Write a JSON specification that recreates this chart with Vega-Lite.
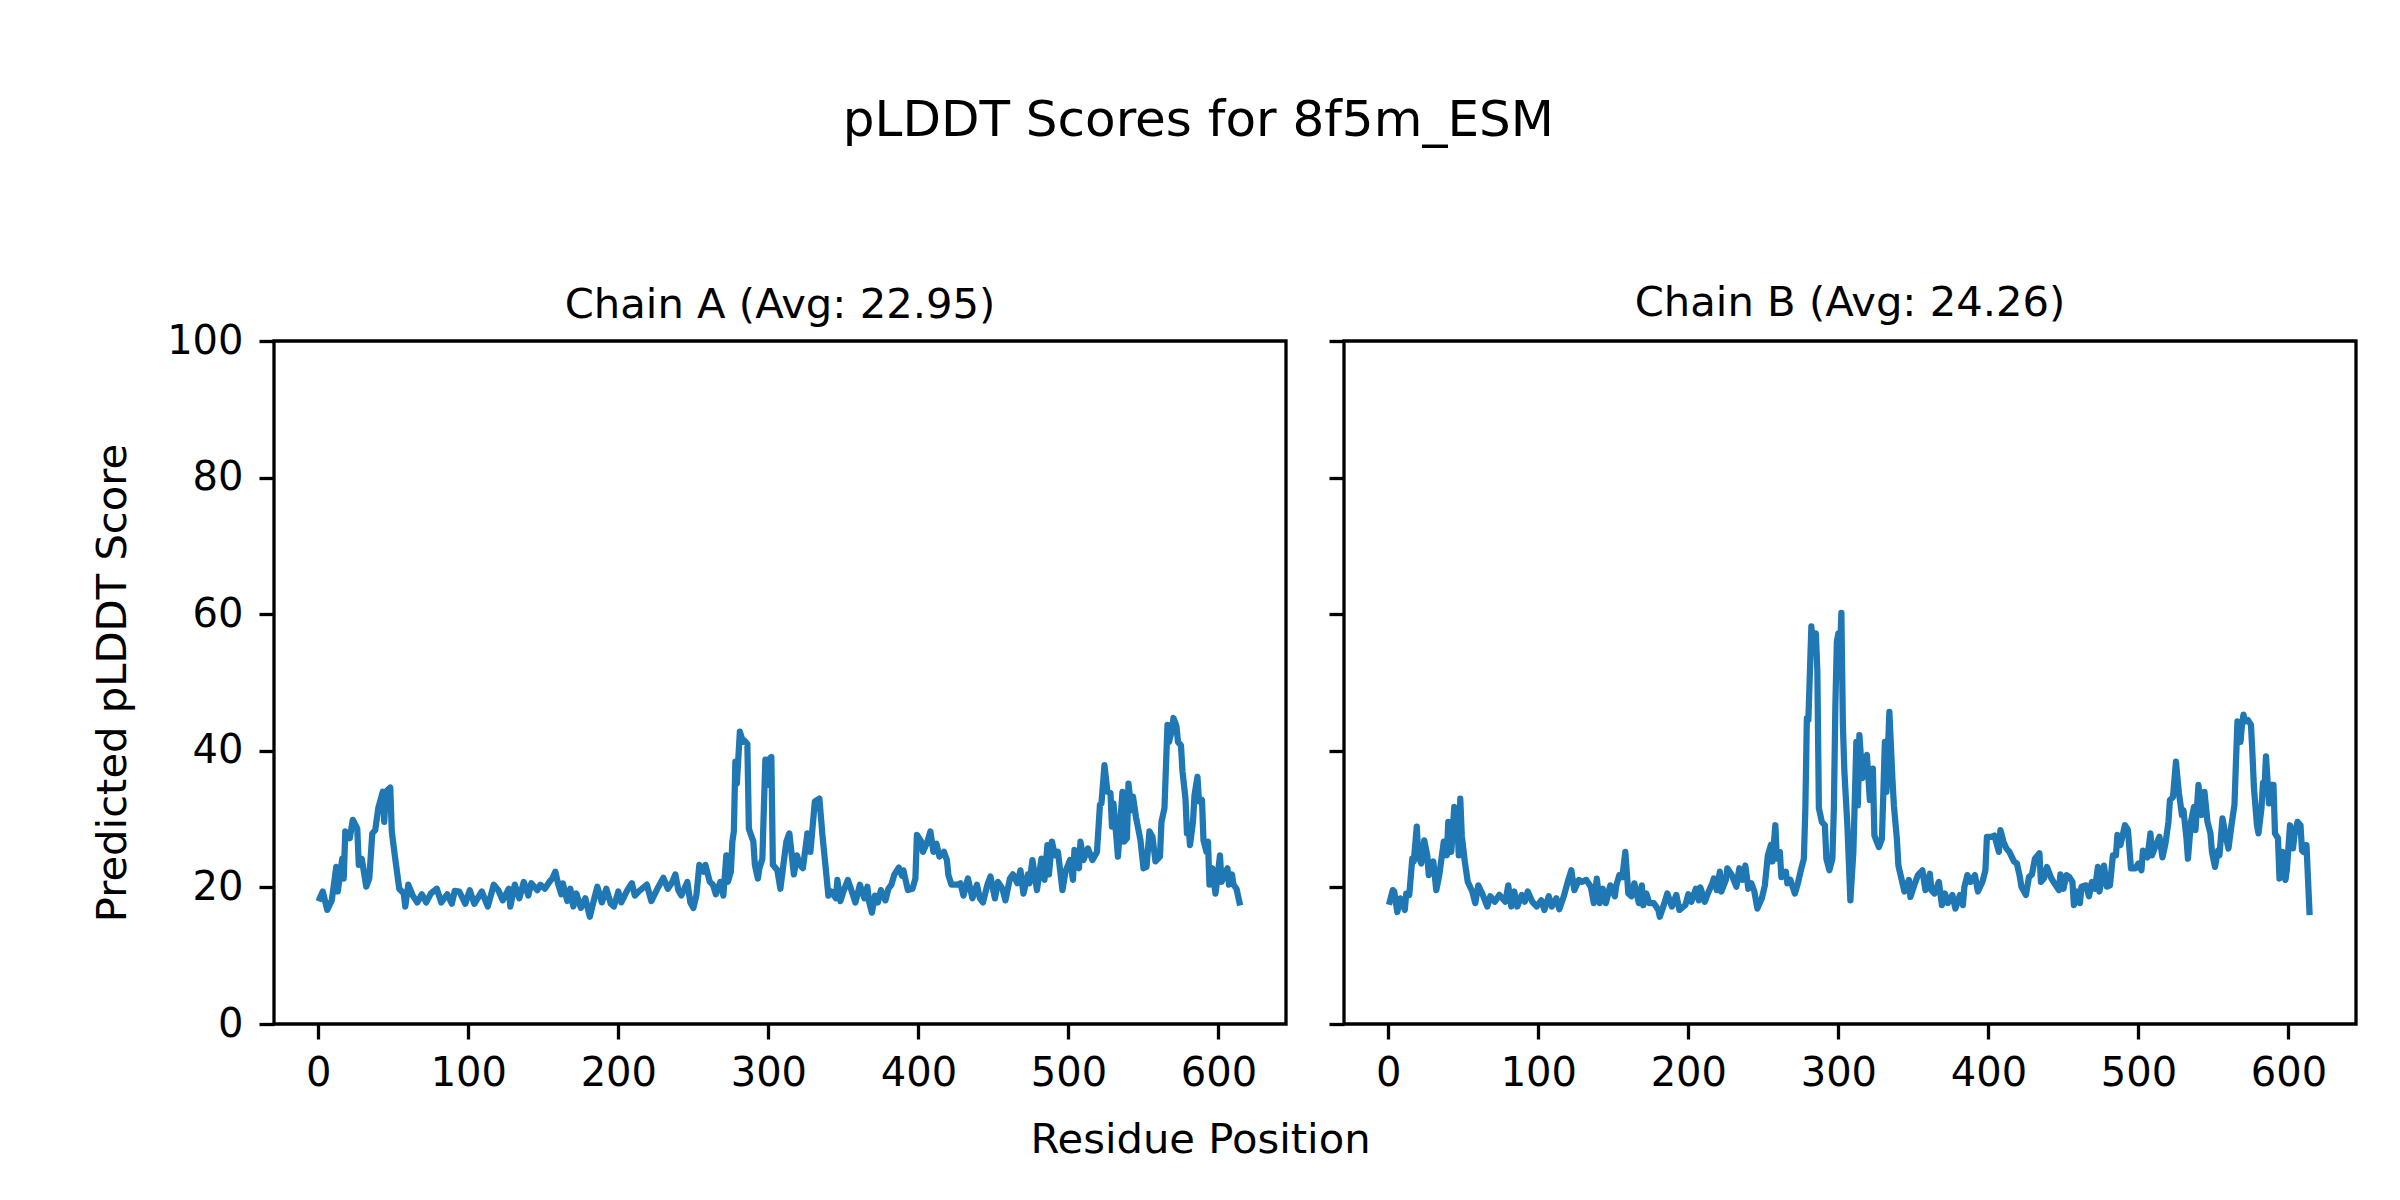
{
  "$schema": "https://vega.github.io/schema/vega-lite/v6.json",
  "background": "white",
  "padding": {"left": 91, "top": 95, "right": 30, "bottom": 20},
  "config": {
    "font": "DejaVu Sans",
    "view": {"stroke": "black", "strokeWidth": 3.3},
    "axis": {"domain": false, "grid": false, "tickColor": "black", "tickWidth": 3.3, "tickSize": 15, "labelFontSize": 40, "labelColor": "black", "labelFont": "DejaVu Sans", "titleFont": "DejaVu Sans", "titleFontSize": 41.7, "titleFontWeight": "normal", "titleColor": "black"},
    "title": {"font": "DejaVu Sans", "fontWeight": "normal", "color": "black"}
  },
  "title": {"text": "pLDDT Scores for 8f5m_ESM", "fontSize": 50, "dx": -26, "baseline": "alphabetic", "offset": 96, "anchor": "middle"},
  "datasets": {
    "A": [
      {"r":1,"v":18.4},{"r":3,"v":19.4},{"r":6,"v":16.7},{"r":9,"v":18.1},{"r":12,"v":23.0},{"r":13,"v":19.4},{"r":16,"v":24.2},{"r":17,"v":21.3},{"r":18,"v":28.2},{"r":21,"v":27.2},{"r":23,"v":29.9},{"r":26,"v":28.6},{"r":27,"v":23.3},{"r":29,"v":24.2},{"r":32,"v":20.1},{"r":34,"v":21.3},{"r":36,"v":27.9},{"r":38,"v":28.4},{"r":40,"v":31.6},{"r":43,"v":34.0},{"r":44,"v":29.6},{"r":45,"v":34.0},{"r":48,"v":34.6},{"r":49,"v":28.2},{"r":51,"v":24.7},{"r":54,"v":19.8},{"r":57,"v":19.1},{"r":58,"v":17.2},{"r":60,"v":20.4},{"r":63,"v":18.8},{"r":66,"v":17.8},{"r":69,"v":19.0},{"r":72,"v":17.8},{"r":75,"v":19.1},{"r":79,"v":19.8},{"r":82,"v":17.8},{"r":86,"v":19.0},{"r":89,"v":17.6},{"r":91,"v":19.5},{"r":94,"v":19.4},{"r":98,"v":17.6},{"r":101,"v":19.6},{"r":104,"v":17.6},{"r":109,"v":19.4},{"r":113,"v":17.2},{"r":117,"v":20.4},{"r":120,"v":19.6},{"r":123,"v":18.1},{"r":127,"v":19.8},{"r":128,"v":17.2},{"r":131,"v":20.4},{"r":134,"v":18.4},{"r":137,"v":20.8},{"r":140,"v":18.8},{"r":142,"v":20.6},{"r":146,"v":19.6},{"r":148,"v":20.4},{"r":151,"v":19.8},{"r":154,"v":20.8},{"r":156,"v":21.3},{"r":158,"v":22.3},{"r":160,"v":20.4},{"r":162,"v":19.0},{"r":163,"v":20.6},{"r":166,"v":18.0},{"r":168,"v":19.8},{"r":170,"v":17.2},{"r":172,"v":19.1},{"r":175,"v":17.0},{"r":178,"v":18.4},{"r":181,"v":15.7},{"r":184,"v":18.4},{"r":186,"v":20.1},{"r":189,"v":17.8},{"r":192,"v":19.8},{"r":195,"v":17.6},{"r":197,"v":17.2},{"r":200,"v":19.4},{"r":202,"v":17.8},{"r":206,"v":19.6},{"r":209,"v":20.6},{"r":211,"v":18.8},{"r":214,"v":19.5},{"r":219,"v":20.4},{"r":222,"v":18.0},{"r":226,"v":19.8},{"r":230,"v":21.4},{"r":233,"v":19.8},{"r":236,"v":20.8},{"r":238,"v":21.9},{"r":240,"v":19.6},{"r":242,"v":18.8},{"r":246,"v":20.8},{"r":248,"v":17.8},{"r":250,"v":17.0},{"r":252,"v":18.8},{"r":254,"v":23.3},{"r":257,"v":22.3},{"r":258,"v":23.3},{"r":261,"v":20.8},{"r":263,"v":20.4},{"r":265,"v":19.0},{"r":268,"v":20.8},{"r":270,"v":18.8},{"r":272,"v":24.7},{"r":273,"v":20.8},{"r":275,"v":22.3},{"r":276,"v":26.7},{"r":277,"v":28.2},{"r":278,"v":38.4},{"r":279,"v":35.2},{"r":281,"v":42.8},{"r":283,"v":41.3},{"r":284,"v":41.5},{"r":286,"v":41.0},{"r":287,"v":28.6},{"r":290,"v":26.7},{"r":291,"v":23.3},{"r":293,"v":21.3},{"r":294,"v":22.8},{"r":296,"v":24.2},{"r":297,"v":31.6},{"r":298,"v":38.7},{"r":300,"v":35.0},{"r":301,"v":38.9},{"r":302,"v":39.1},{"r":303,"v":23.3},{"r":306,"v":22.5},{"r":308,"v":19.8},{"r":310,"v":23.3},{"r":312,"v":26.7},{"r":314,"v":27.9},{"r":317,"v":21.9},{"r":319,"v":24.7},{"r":321,"v":23.3},{"r":323,"v":22.8},{"r":326,"v":27.9},{"r":328,"v":25.2},{"r":331,"v":32.6},{"r":334,"v":33.0},{"r":336,"v":27.7},{"r":338,"v":23.3},{"r":340,"v":18.8},{"r":342,"v":19.4},{"r":345,"v":18.4},{"r":346,"v":21.1},{"r":348,"v":18.0},{"r":350,"v":19.4},{"r":353,"v":21.1},{"r":355,"v":19.8},{"r":358,"v":17.8},{"r":361,"v":20.4},{"r":364,"v":18.4},{"r":366,"v":20.1},{"r":367,"v":18.0},{"r":369,"v":16.3},{"r":371,"v":18.8},{"r":373,"v":17.8},{"r":375,"v":19.6},{"r":378,"v":18.1},{"r":380,"v":19.8},{"r":382,"v":20.4},{"r":384,"v":21.9},{"r":387,"v":22.9},{"r":389,"v":21.7},{"r":390,"v":22.5},{"r":393,"v":19.6},{"r":396,"v":19.8},{"r":398,"v":21.3},{"r":399,"v":27.7},{"r":402,"v":26.7},{"r":403,"v":25.2},{"r":406,"v":26.7},{"r":408,"v":28.2},{"r":410,"v":25.2},{"r":412,"v":26.4},{"r":414,"v":24.5},{"r":417,"v":25.2},{"r":419,"v":24.0},{"r":420,"v":21.8},{"r":422,"v":20.4},{"r":426,"v":20.4},{"r":428,"v":20.6},{"r":430,"v":18.8},{"r":433,"v":21.3},{"r":436,"v":18.4},{"r":439,"v":20.4},{"r":441,"v":18.4},{"r":443,"v":17.8},{"r":446,"v":20.4},{"r":448,"v":21.6},{"r":451,"v":18.4},{"r":453,"v":20.8},{"r":456,"v":19.8},{"r":458,"v":18.1},{"r":461,"v":21.3},{"r":463,"v":21.9},{"r":466,"v":20.6},{"r":468,"v":22.5},{"r":470,"v":19.1},{"r":473,"v":21.9},{"r":474,"v":20.6},{"r":476,"v":24.0},{"r":479,"v":19.6},{"r":482,"v":24.2},{"r":484,"v":21.1},{"r":486,"v":26.2},{"r":487,"v":21.9},{"r":489,"v":26.7},{"r":491,"v":24.7},{"r":493,"v":25.2},{"r":496,"v":19.6},{"r":498,"v":22.3},{"r":501,"v":24.0},{"r":503,"v":21.1},{"r":504,"v":25.5},{"r":507,"v":22.8},{"r":508,"v":26.7},{"r":510,"v":24.0},{"r":513,"v":25.7},{"r":516,"v":24.0},{"r":519,"v":25.2},{"r":521,"v":32.1},{"r":522,"v":32.3},{"r":524,"v":37.9},{"r":526,"v":34.0},{"r":528,"v":33.8},{"r":529,"v":28.9},{"r":530,"v":32.3},{"r":532,"v":27.2},{"r":533,"v":24.5},{"r":536,"v":34.0},{"r":537,"v":26.7},{"r":539,"v":27.2},{"r":540,"v":35.2},{"r":542,"v":31.3},{"r":543,"v":33.3},{"r":545,"v":30.3},{"r":548,"v":26.9},{"r":550,"v":22.8},{"r":552,"v":23.0},{"r":554,"v":28.2},{"r":556,"v":27.4},{"r":558,"v":23.8},{"r":561,"v":24.5},{"r":562,"v":29.6},{"r":564,"v":31.6},{"r":566,"v":43.8},{"r":567,"v":41.3},{"r":569,"v":43.0},{"r":570,"v":44.8},{"r":572,"v":43.6},{"r":573,"v":41.3},{"r":575,"v":40.8},{"r":576,"v":37.0},{"r":578,"v":33.0},{"r":579,"v":27.9},{"r":580,"v":29.1},{"r":581,"v":26.2},{"r":583,"v":29.6},{"r":584,"v":33.5},{"r":586,"v":36.2},{"r":587,"v":32.6},{"r":589,"v":32.8},{"r":590,"v":26.9},{"r":592,"v":25.2},{"r":593,"v":26.7},{"r":594,"v":20.4},{"r":596,"v":22.8},{"r":598,"v":19.1},{"r":599,"v":20.8},{"r":601,"v":24.7},{"r":602,"v":20.8},{"r":604,"v":21.8},{"r":606,"v":22.8},{"r":607,"v":20.4},{"r":609,"v":21.9},{"r":610,"v":20.4},{"r":612,"v":19.8},{"r":614,"v":17.8}
    ],
    "B": [
      {"r":1,"v":17.9},{"r":3,"v":19.6},{"r":4,"v":19.4},{"r":6,"v":16.4},{"r":8,"v":18.4},{"r":9,"v":18.1},{"r":11,"v":16.7},{"r":12,"v":19.1},{"r":14,"v":18.9},{"r":16,"v":24.2},{"r":17,"v":23.8},{"r":19,"v":28.9},{"r":20,"v":24.7},{"r":22,"v":23.5},{"r":24,"v":26.9},{"r":26,"v":24.7},{"r":27,"v":21.8},{"r":28,"v":23.2},{"r":30,"v":23.8},{"r":32,"v":19.6},{"r":34,"v":21.8},{"r":37,"v":26.7},{"r":39,"v":24.7},{"r":40,"v":29.6},{"r":42,"v":25.2},{"r":44,"v":31.8},{"r":46,"v":29.6},{"r":47,"v":24.7},{"r":48,"v":33.0},{"r":49,"v":27.6},{"r":51,"v":23.8},{"r":53,"v":20.8},{"r":56,"v":19.4},{"r":58,"v":17.7},{"r":60,"v":20.3},{"r":63,"v":18.9},{"r":66,"v":17.2},{"r":68,"v":18.7},{"r":71,"v":17.9},{"r":74,"v":18.9},{"r":78,"v":17.9},{"r":80,"v":20.3},{"r":82,"v":17.2},{"r":84,"v":19.4},{"r":86,"v":17.2},{"r":89,"v":18.9},{"r":91,"v":17.9},{"r":93,"v":19.4},{"r":96,"v":17.9},{"r":99,"v":17.2},{"r":102,"v":18.1},{"r":104,"v":16.7},{"r":107,"v":18.7},{"r":109,"v":17.2},{"r":112,"v":18.4},{"r":114,"v":16.8},{"r":117,"v":18.7},{"r":120,"v":21.1},{"r":122,"v":22.5},{"r":124,"v":19.6},{"r":127,"v":21.1},{"r":129,"v":20.8},{"r":132,"v":21.1},{"r":135,"v":20.1},{"r":137,"v":17.7},{"r":139,"v":21.3},{"r":141,"v":17.7},{"r":143,"v":19.8},{"r":145,"v":17.7},{"r":148,"v":20.3},{"r":151,"v":18.7},{"r":152,"v":20.3},{"r":154,"v":21.8},{"r":156,"v":21.5},{"r":158,"v":25.2},{"r":160,"v":19.1},{"r":162,"v":18.7},{"r":164,"v":20.6},{"r":167,"v":17.7},{"r":169,"v":20.3},{"r":170,"v":17.4},{"r":172,"v":19.1},{"r":174,"v":17.7},{"r":177,"v":17.7},{"r":180,"v":16.7},{"r":181,"v":15.7},{"r":183,"v":17.0},{"r":186,"v":19.1},{"r":189,"v":17.2},{"r":192,"v":18.9},{"r":194,"v":16.7},{"r":198,"v":17.4},{"r":200,"v":19.0},{"r":202,"v":17.9},{"r":205,"v":19.8},{"r":207,"v":18.1},{"r":208,"v":20.0},{"r":211,"v":17.9},{"r":213,"v":19.1},{"r":216,"v":20.6},{"r":217,"v":21.3},{"r":219,"v":19.6},{"r":221,"v":22.3},{"r":222,"v":19.4},{"r":225,"v":21.1},{"r":226,"v":22.8},{"r":229,"v":21.8},{"r":232,"v":20.1},{"r":234,"v":22.8},{"r":236,"v":21.1},{"r":238,"v":23.2},{"r":240,"v":19.8},{"r":242,"v":20.6},{"r":244,"v":19.4},{"r":246,"v":16.9},{"r":249,"v":18.4},{"r":251,"v":20.3},{"r":253,"v":24.7},{"r":255,"v":26.2},{"r":256,"v":23.8},{"r":258,"v":29.1},{"r":259,"v":24.2},{"r":261,"v":25.2},{"r":262,"v":21.5},{"r":265,"v":22.3},{"r":266,"v":20.6},{"r":268,"v":21.1},{"r":271,"v":19.1},{"r":273,"v":20.6},{"r":275,"v":22.5},{"r":277,"v":24.2},{"r":278,"v":31.6},{"r":279,"v":44.8},{"r":280,"v":44.5},{"r":282,"v":58.2},{"r":283,"v":54.5},{"r":285,"v":57.2},{"r":286,"v":51.6},{"r":287,"v":31.6},{"r":289,"v":29.6},{"r":291,"v":29.1},{"r":292,"v":24.2},{"r":294,"v":22.5},{"r":296,"v":24.2},{"r":297,"v":31.6},{"r":298,"v":46.7},{"r":299,"v":56.0},{"r":300,"v":57.2},{"r":301,"v":53.6},{"r":302,"v":60.2},{"r":303,"v":43.8},{"r":304,"v":37.0},{"r":306,"v":29.1},{"r":308,"v":18.1},{"r":310,"v":25.2},{"r":312,"v":41.3},{"r":313,"v":32.0},{"r":314,"v":42.3},{"r":316,"v":36.0},{"r":318,"v":37.9},{"r":319,"v":39.4},{"r":321,"v":32.8},{"r":323,"v":37.4},{"r":324,"v":27.6},{"r":327,"v":25.9},{"r":329,"v":27.1},{"r":330,"v":34.0},{"r":331,"v":41.3},{"r":332,"v":34.0},{"r":334,"v":45.7},{"r":336,"v":36.0},{"r":337,"v":32.0},{"r":339,"v":27.1},{"r":340,"v":23.2},{"r":342,"v":21.3},{"r":344,"v":19.4},{"r":347,"v":21.1},{"r":348,"v":18.6},{"r":351,"v":20.6},{"r":353,"v":21.8},{"r":356,"v":22.5},{"r":358,"v":19.6},{"r":361,"v":22.0},{"r":362,"v":19.6},{"r":364,"v":19.1},{"r":367,"v":20.8},{"r":369,"v":17.4},{"r":371,"v":19.1},{"r":373,"v":17.7},{"r":376,"v":18.9},{"r":378,"v":16.9},{"r":381,"v":18.9},{"r":383,"v":17.4},{"r":384,"v":20.1},{"r":386,"v":21.8},{"r":388,"v":20.8},{"r":391,"v":21.8},{"r":393,"v":19.4},{"r":396,"v":20.8},{"r":398,"v":22.5},{"r":399,"v":27.4},{"r":402,"v":27.4},{"r":404,"v":27.6},{"r":407,"v":25.2},{"r":408,"v":28.4},{"r":410,"v":26.7},{"r":412,"v":25.7},{"r":414,"v":25.2},{"r":417,"v":23.8},{"r":419,"v":23.5},{"r":421,"v":21.5},{"r":422,"v":20.1},{"r":425,"v":18.9},{"r":427,"v":21.5},{"r":429,"v":21.9},{"r":431,"v":24.2},{"r":434,"v":25.0},{"r":435,"v":20.8},{"r":437,"v":21.3},{"r":439,"v":23.0},{"r":442,"v":21.3},{"r":444,"v":20.6},{"r":447,"v":19.6},{"r":448,"v":21.9},{"r":450,"v":19.8},{"r":452,"v":21.8},{"r":454,"v":21.5},{"r":456,"v":20.8},{"r":457,"v":17.4},{"r":459,"v":19.4},{"r":461,"v":17.7},{"r":462,"v":20.1},{"r":465,"v":20.3},{"r":467,"v":18.7},{"r":469,"v":20.8},{"r":471,"v":19.8},{"r":473,"v":23.0},{"r":474,"v":19.4},{"r":477,"v":23.2},{"r":479,"v":20.1},{"r":481,"v":20.3},{"r":483,"v":24.7},{"r":485,"v":24.7},{"r":486,"v":27.7},{"r":488,"v":26.2},{"r":491,"v":29.1},{"r":493,"v":28.4},{"r":495,"v":22.8},{"r":498,"v":22.8},{"r":500,"v":23.5},{"r":502,"v":22.5},{"r":503,"v":25.4},{"r":506,"v":24.4},{"r":508,"v":27.9},{"r":509,"v":24.7},{"r":512,"v":26.4},{"r":514,"v":27.4},{"r":516,"v":24.4},{"r":518,"v":26.4},{"r":520,"v":29.6},{"r":521,"v":32.8},{"r":523,"v":33.2},{"r":525,"v":38.4},{"r":526,"v":36.0},{"r":527,"v":33.8},{"r":529,"v":30.6},{"r":530,"v":31.3},{"r":532,"v":27.2},{"r":533,"v":24.2},{"r":535,"v":29.6},{"r":537,"v":31.8},{"r":538,"v":28.4},{"r":540,"v":35.0},{"r":542,"v":30.6},{"r":544,"v":34.0},{"r":546,"v":29.6},{"r":548,"v":27.9},{"r":549,"v":25.2},{"r":551,"v":23.0},{"r":553,"v":25.4},{"r":554,"v":24.7},{"r":556,"v":30.1},{"r":558,"v":27.7},{"r":560,"v":25.7},{"r":562,"v":29.1},{"r":564,"v":32.1},{"r":565,"v":38.4},{"r":566,"v":44.3},{"r":568,"v":41.3},{"r":569,"v":43.8},{"r":570,"v":45.3},{"r":571,"v":44.3},{"r":573,"v":44.5},{"r":575,"v":43.8},{"r":576,"v":39.4},{"r":577,"v":34.5},{"r":579,"v":29.1},{"r":580,"v":27.9},{"r":582,"v":31.6},{"r":583,"v":35.3},{"r":584,"v":34.3},{"r":585,"v":39.2},{"r":587,"v":32.3},{"r":588,"v":35.0},{"r":590,"v":35.0},{"r":591,"v":27.9},{"r":593,"v":27.2},{"r":594,"v":21.3},{"r":596,"v":25.2},{"r":598,"v":21.1},{"r":599,"v":22.8},{"r":601,"v":29.1},{"r":603,"v":25.7},{"r":604,"v":27.7},{"r":606,"v":29.6},{"r":608,"v":29.1},{"r":609,"v":25.4},{"r":610,"v":25.2},{"r":612,"v":26.2},{"r":614,"v":16.4}
    ]
  },
  "spacing": 58,
  "bounds": "flush",
  "hconcat": [
    {
      "width": 1012,
      "height": 683,
      "title": {"text": "Chain A (Avg: 22.95)", "fontSize": 41.7, "baseline": "alphabetic", "offset": -38.5, "frame": "group"},
      "data": {"name": "A"},
      "mark": {"type": "line", "color": "#1f77b4", "strokeWidth": 6.25, "strokeJoin": "round", "strokeCap": "square"},
      "encoding": {
        "x": {"field": "r", "type": "quantitative", "scale": {"domain": [-29.5, 645], "nice": false, "zero": false},
              "axis": {"values": [0, 100, 200, 300, 400, 500, 600], "labelPadding": 14, "title": "Residue Position", "titleX": 926, "titleY": 128, "titleBaseline": "alphabetic", "titleAlign": "center"}},
        "y": {"field": "v", "type": "quantitative", "scale": {"domain": [0, 100], "nice": false},
              "axis": {"values": [0, 20, 40, 60, 80, 100], "labelPadding": 16, "title": "Predicted pLDDT Score", "titlePadding": 32}}
      }
    },
    {
      "width": 1012,
      "height": 683,
      "title": {"text": "Chain B (Avg: 24.26)", "fontSize": 41.7, "baseline": "alphabetic", "offset": -18.6, "frame": "group"},
      "data": {"name": "B"},
      "mark": {"type": "line", "color": "#1f77b4", "strokeWidth": 6.25, "strokeJoin": "round", "strokeCap": "square"},
      "encoding": {
        "x": {"field": "r", "type": "quantitative", "scale": {"domain": [-29.5, 645], "nice": false, "zero": false},
              "axis": {"values": [0, 100, 200, 300, 400, 500, 600], "labelPadding": 14, "title": null}},
        "y": {"field": "v", "type": "quantitative", "scale": {"domain": [0, 100], "nice": false},
              "axis": {"values": [0, 20, 40, 60, 80, 100], "labels": false, "title": null}}
      }
    }
  ]
}
